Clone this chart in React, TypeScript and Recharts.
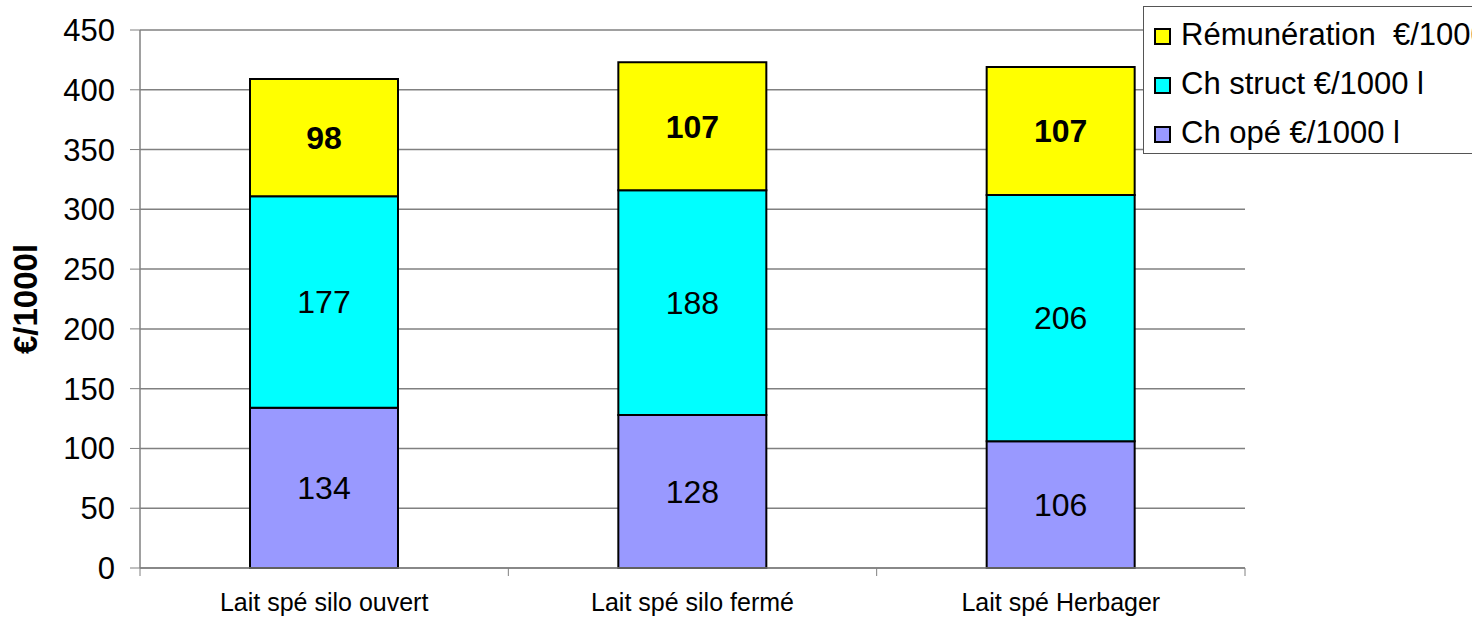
import React from 'react'
import {
  BarChart,
  Bar,
  XAxis,
  YAxis,
  CartesianGrid,
  Legend,
  LabelList,
} from 'recharts'

const categories = ['Lait spé silo ouvert', 'Lait spé silo fermé', 'Lait spé Herbager']
const chOpe = [134, 128, 106]
const chStruct = [177, 188, 206]
const remuneration = [98, 107, 107]
const yTicks = [0, 50, 100, 150, 200, 250, 300, 350, 400, 450]

const seriesNames = {
  ope: 'Ch opé €/1000 l',
  struct: 'Ch struct €/1000 l',
  rem: 'Rémunération  €/1000 l',
}
const colors = { ope: '#9999FF', struct: '#00FFFF', rem: '#FFFF00' }

const data = categories.map((name, i) => ({
  name,
  ope: chOpe[i],
  struct: chStruct[i],
  rem: remuneration[i],
}))

const W = 1472
const H = 617
const M = { top: 30, right: 227, bottom: 0, left: 0 }
const Y_AXIS_W = 140
const X_AXIS_H = 49
const BAND = (W - M.left - Y_AXIS_W - M.right) / categories.length
const TICK_SIZE = 8
const TICK_MARGIN = 17
const FONT = '"Liberation Sans", Arial, sans-serif'
const GRID = '#808080'

function XTick(props: any) {
  const { x, y, payload, index } = props
  const axisY = y - TICK_SIZE - TICK_MARGIN
  return (
    <g>
      <line x1={x - BAND / 2} x2={x - BAND / 2} y1={axisY} y2={axisY + TICK_SIZE} stroke={GRID} />
      {index === categories.length - 1 && (
        <line x1={x + BAND / 2} x2={x + BAND / 2} y1={axisY} y2={axisY + TICK_SIZE} stroke={GRID} />
      )}
      <text x={x} y={y} dy="0.71em" textAnchor="middle" fontSize={25} fill="#000" fontFamily={FONT}>
        {payload.value}
      </text>
    </g>
  )
}

function YLabel(props: any) {
  const { viewBox } = props
  const cy = viewBox.y + viewBox.height / 2
  return (
    <text
      x={25}
      y={cy}
      transform={`rotate(-90 25 ${cy})`}
      textAnchor="middle"
      dominantBaseline="central"
      fontSize={33}
      fontWeight="bold"
      fontFamily={FONT}
      fill="#000"
    >
      €/1000l
    </text>
  )
}

function LegendBox() {
  const items = [
    { key: 'rem', label: seriesNames.rem },
    { key: 'struct', label: seriesNames.struct },
    { key: 'ope', label: seriesNames.ope },
  ] as const
  return (
    <div
      style={{
        border: '1px solid #555',
        background: '#fff',
        width: 360,
        height: 148,
        boxSizing: 'border-box',
        paddingTop: 3,
        paddingLeft: 10,
        fontFamily: FONT,
        fontSize: 31,
        color: '#000',
      }}
    >
      {items.map((it) => (
        <div key={it.key} style={{ height: 49, display: 'flex', alignItems: 'center', whiteSpace: 'pre' }}>
          <span
            style={{
              display: 'inline-block',
              flexShrink: 0,
              width: 17,
              height: 17,
              boxSizing: 'border-box',
              border: '2px solid #000',
              background: colors[it.key],
              marginRight: 10,
              marginTop: 3,
            }}
          />
          {it.label}
        </div>
      ))}
    </div>
  )
}

export default function App() {
  return (
    <div style={{ position: 'fixed', left: 0, top: 0, width: W, height: H, overflow: 'hidden', background: '#fff' }}>
      <BarChart width={W} height={H} data={data} margin={M} barSize={148}>
        <CartesianGrid vertical={false} stroke={GRID} strokeWidth={1.5} />
        <XAxis
          dataKey="name"
          height={X_AXIS_H}
          axisLine={{ stroke: GRID, strokeWidth: 1.5 }}
          tickLine={false}
          tickSize={TICK_SIZE}
          tickMargin={TICK_MARGIN}
          tick={<XTick />}
          interval={0}
        />
        <YAxis
          width={Y_AXIS_W}
          domain={[0, 450]}
          ticks={yTicks}
          interval={0}
          axisLine={{ stroke: GRID, strokeWidth: 1.5 }}
          tickLine={{ stroke: GRID }}
          tickSize={10}
          tickMargin={15}
          tick={{ fontSize: 31, fill: '#000', fontFamily: FONT }}
          label={<YLabel />}
        />
        <YAxis
          yAxisId="r"
          orientation="right"
          width={0}
          tick={false}
          tickLine={false}
          axisLine={{ stroke: GRID, strokeWidth: 1.5 }}
        />
        <Legend
          layout="vertical"
          align="center"
          verticalAlign="middle"
          content={<LegendBox />}
          wrapperStyle={{ position: 'absolute', left: 1143, top: 6, width: 360, height: 148 }}
        />
        <Bar dataKey="ope" name={seriesNames.ope} stackId="a" fill={colors.ope} stroke="#000" strokeWidth={2} isAnimationActive={false}>
          <LabelList dataKey="ope" position="center" fill="#000" fontSize={32} fontFamily={FONT} />
        </Bar>
        <Bar dataKey="struct" name={seriesNames.struct} stackId="a" fill={colors.struct} stroke="#000" strokeWidth={2} isAnimationActive={false}>
          <LabelList dataKey="struct" position="center" fill="#000" fontSize={32} fontFamily={FONT} />
        </Bar>
        <Bar dataKey="rem" name={seriesNames.rem} stackId="a" fill={colors.rem} stroke="#000" strokeWidth={2} isAnimationActive={false}>
          <LabelList dataKey="rem" position="center" fill="#000" fontSize={32} fontWeight="bold" fontFamily={FONT} />
        </Bar>
      </BarChart>
    </div>
  )
}
